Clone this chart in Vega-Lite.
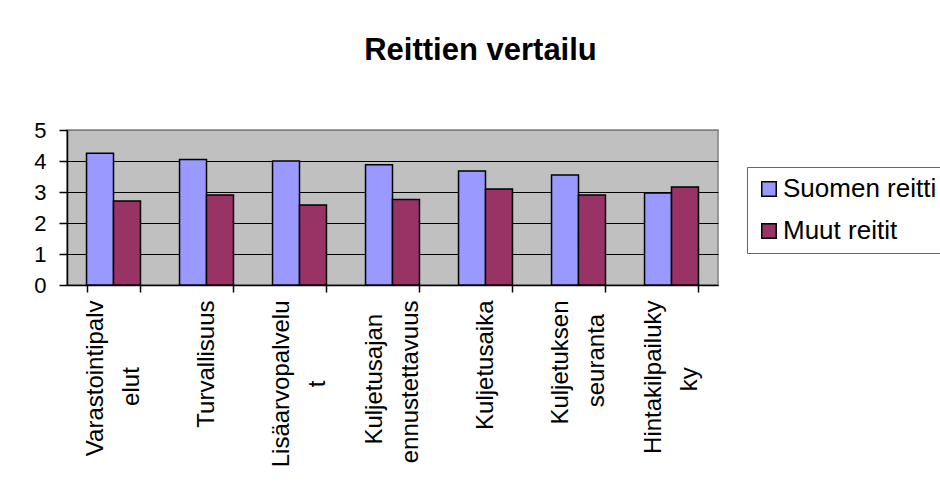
{
  "$schema": "https://vega.github.io/schema/vega-lite/v6.json",
  "width": 651,
  "height": 155,
  "autosize": {"type": "none"},
  "padding": {"left": 67, "top": 130, "right": 222, "bottom": 216},
  "background": "white",
  "title": {
    "text": "Reittien vertailu",
    "font": "Liberation Sans",
    "fontSize": 31,
    "fontWeight": "bold",
    "color": "black",
    "anchor": "middle",
    "dx": 88,
    "offset": 52
  },
  "data": {
    "values": [
      {"category": "Varastointipalvelut", "series": "Suomen reitti", "value": 4.25},
      {"category": "Varastointipalvelut", "series": "Muut reitit", "value": 2.71},
      {"category": "Turvallisuus", "series": "Suomen reitti", "value": 4.05},
      {"category": "Turvallisuus", "series": "Muut reitit", "value": 2.9},
      {"category": "Lisäarvopalvelut", "series": "Suomen reitti", "value": 4.0},
      {"category": "Lisäarvopalvelut", "series": "Muut reitit", "value": 2.58},
      {"category": "Kuljetusajan ennustettavuus", "series": "Suomen reitti", "value": 3.88},
      {"category": "Kuljetusajan ennustettavuus", "series": "Muut reitit", "value": 2.76},
      {"category": "Kuljetusaika", "series": "Suomen reitti", "value": 3.68},
      {"category": "Kuljetusaika", "series": "Muut reitit", "value": 3.1},
      {"category": "Kuljetuksen seuranta", "series": "Suomen reitti", "value": 3.55},
      {"category": "Kuljetuksen seuranta", "series": "Muut reitit", "value": 2.9},
      {"category": "Hintakilpailukyky", "series": "Suomen reitti", "value": 2.97},
      {"category": "Hintakilpailukyky", "series": "Muut reitit", "value": 3.16}
    ]
  },
  "mark": {"type": "bar", "stroke": "black", "strokeWidth": 1.5},
  "encoding": {
    "x": {
      "field": "category",
      "type": "nominal",
      "sort": null,
      "title": null,
      "scale": {"paddingInner": 0.42, "paddingOuter": 0.21},
      "axis": {
        "domainColor": "black",
        "domainWidth": 1.5,
        "tickColor": "black",
        "tickWidth": 1.5,
        "tickSize": 7,
        "tickBand": "extent",
        "labelAngle": -90,
        "labelAlign": "right",
        "labelBaseline": "middle",
        "labelPadding": 8,
        "labelOffset": -18,
        "labelFont": "Liberation Sans",
        "labelFontSize": 24,
        "labelLineHeight": 18,
        "labelColor": "black",
        "labelLimit": 0,
        "labelExpr": "datum.label === 'Varastointipalvelut' ? ['Varastointipalv', '\u200b\u00a0\u200b', 'elut\u00a0\u00a0\u00a0\u00a0\u00a0\u00a0\u00a0\u00a0\u00a0\u00a0\u200b'] : datum.label === 'Lisäarvopalvelut' ? ['Lisäarvopalvelu', '\u200b\u00a0\u200b', 't\u00a0\u00a0\u00a0\u00a0\u00a0\u00a0\u00a0\u00a0\u00a0\u00a0\u00a0\u00a0\u200b'] : datum.label === 'Kuljetusajan ennustettavuus' ? ['Kuljetusajan\u00a0\u00a0\u200b', '\u200b\u00a0\u200b', 'ennustettavuus'] : datum.label === 'Kuljetuksen seuranta' ? ['Kuljetuksen', '\u200b\u00a0\u200b', 'seuranta\u00a0\u00a0\u200b'] : datum.label === 'Hintakilpailukyky' ? ['Hintakilpailuky', '\u200b\u00a0\u200b', 'ky\u00a0\u00a0\u00a0\u00a0\u00a0\u00a0\u00a0\u00a0\u00a0\u00a0\u200b'] : ['\u200b\u00a0\u200b', datum.label]"
      }
    },
    "xOffset": {"field": "series", "type": "nominal", "sort": ["Suomen reitti", "Muut reitit"], "scale": {"paddingInner": 0, "paddingOuter": 0}},
    "y": {
      "field": "value",
      "type": "quantitative",
      "title": null,
      "scale": {"domain": [0, 5], "nice": false},
      "axis": {
        "values": [0, 1, 2, 3, 4, 5],
        "domainColor": "black",
        "domainWidth": 1.5,
        "tickColor": "black",
        "tickWidth": 1.5,
        "tickSize": 8,
        "labelPadding": 13,
        "labelFont": "Liberation Sans",
        "labelFontSize": 22,
        "labelColor": "black",
        "grid": true,
        "gridColor": {"condition": {"test": "datum.value === 5", "value": "#808080"}, "value": "black"},
        "gridWidth": 1.2
      }
    },
    "color": {
      "field": "series",
      "type": "nominal",
      "sort": ["Suomen reitti", "Muut reitit"],
      "scale": {"domain": ["Suomen reitti", "Muut reitit"], "range": ["#9999FF", "#993366"]},
      "legend": {
        "title": null,
        "orient": "none",
        "legendX": 680,
        "legendY": 37,
        "symbolType": "square",
        "symbolSize": 210,
        "symbolStrokeColor": "black",
        "symbolStrokeWidth": 1.5,
        "symbolOpacity": 1,
        "labelFont": "Liberation Sans",
        "labelFontSize": 26,
        "labelColor": "black",
        "labelOffset": 1,
        "labelLimit": 0,
        "rowPadding": 16,
        "padding": 9,
        "strokeColor": "#666666",
        "fillColor": "white"
      }
    }
  },
  "config": {
    "view": {"fill": "#C0C0C0", "stroke": "#808080", "strokeWidth": 1.5},
    "axis": {"labelFlush": false, "labelOverlap": false}
  }
}
